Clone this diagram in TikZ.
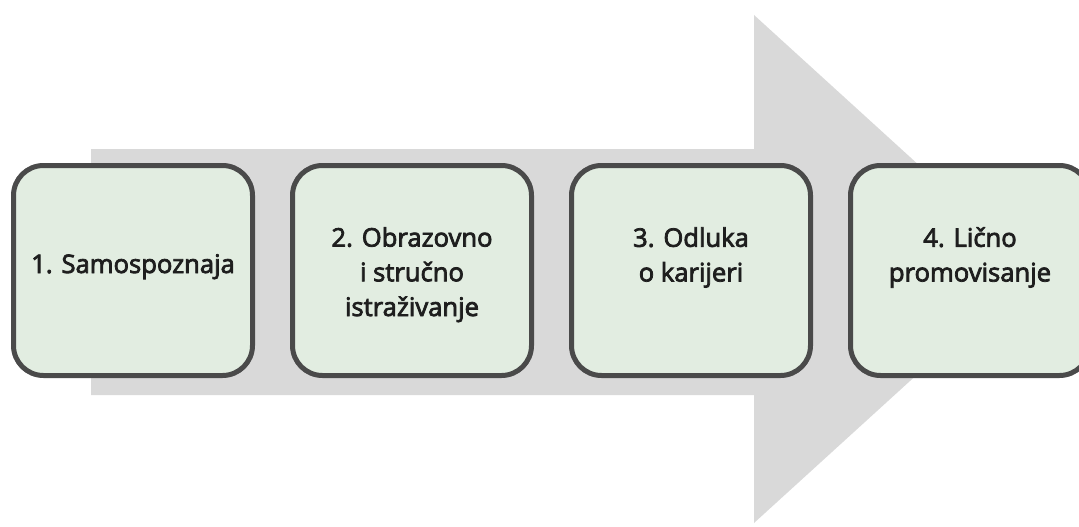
\documentclass[tikz,border=0pt]{standalone}
\usepackage{fontspec}
\setmainfont{Open Sans}
\newfontfamily\boxfont{Open Sans}[FakeBold=3]
\definecolor{arrowgrey}{HTML}{D9D9D9}
\definecolor{boxfill}{HTML}{E2EDE1}
\definecolor{boxline}{HTML}{4A4A4A}
\definecolor{txt}{HTML}{1E1E1E}
\begin{document}
\begin{tikzpicture}[x=1pt,y=-1pt,
  stepbox/.style={draw=boxline,fill=boxfill,line width=5pt,rounded corners=30pt,
    minimum width=239pt,minimum height=210pt,inner sep=0pt},
  steplabel/.style={font=\boxfont\fontsize{25.6}{34.7}\selectfont,text=txt,align=center,inner sep=0pt,anchor=base}]
\useasboundingbox (0,0) rectangle (1079,527);
\clip (0,0) rectangle (1079,527);
\fill[arrowgrey] (91,149) -- (754,149) -- (754,15) -- (1033,269) -- (754,523) -- (754,395) -- (91,395) -- cycle;
\node[stepbox] (b1) at (133,270.5) {};
\node[stepbox] (b2) at (412,270.5) {};
\node[stepbox] (b3) at (691,270.5) {};
\node[stepbox] (b4) at (970,270.5) {};
\node[steplabel] (t1) at (133,273) {1. Samospoznaja};
\node[steplabel] (t2) at (412,316) {2. Obrazovno\\i stručno\\istraživanje};
\node[steplabel] (t3) at (691,281.5) {3. Odluka\\o karijeri};
\node[steplabel] (t4) at (970,281.5) {4. Lično\\promovisanje};
\end{tikzpicture}
\end{document}
